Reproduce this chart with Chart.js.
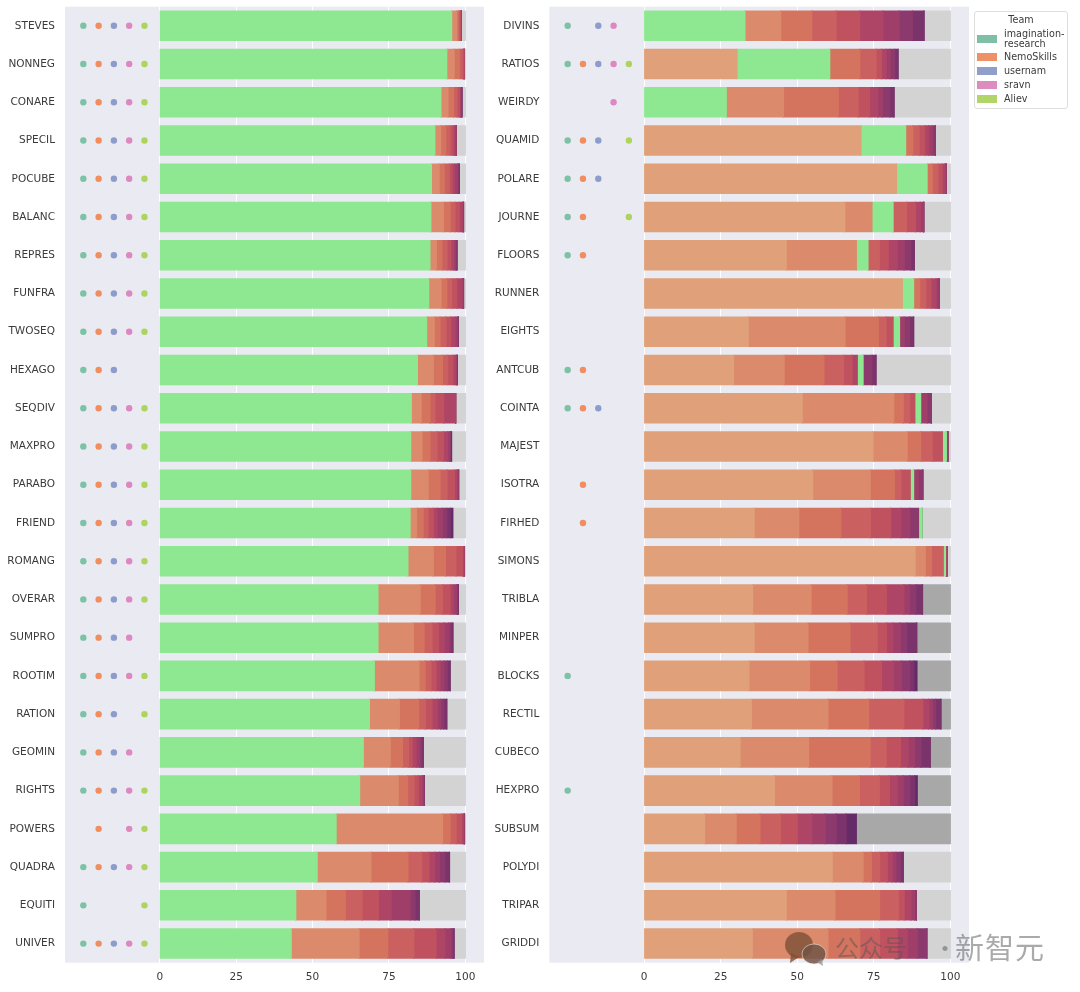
<!DOCTYPE html>
<html>
<head>
<meta charset="utf-8">
<title>Problem difficulty by team</title>
<script src="https://cdn.jsdelivr.net/npm/chart.js@4"></script>
<style>
  html, body { margin: 0; padding: 0; background: #fff; }
  body { position: relative; width: 1080px; height: 992px; overflow: hidden; font-family: "DejaVu Sans", sans-serif; }
  canvas { position: absolute; top: 0; filter: blur(0.35px); }
  #chartLeft { left: 0; }
  #chartRight { left: 490px; }
  #legend { position: absolute; left: 974px; top: 11px; width: 92px; height: 96px; border: 1px solid #dedede; border-radius: 3px; background: #fff; font-size: 9.6px; color: #3a3a3a; }
  #legend .title { position: absolute; top: 1px; left: 0; width: 100%; text-align: center; line-height: 13px; }
  #legend .row { position: absolute; left: 2px; display: flex; align-items: center; line-height: 10px; }
  #legend .sw { width: 20px; height: 8px; margin-right: 7px; flex: none; }
  #mark { position: absolute; left: 785px; top: 926px; width: 270px; height: 44px; color: rgba(85,85,85,.5); font-family: "Noto Sans CJK SC", sans-serif; font-size: 24px; pointer-events: none; }
  #mark span { position: absolute; top: 3px; white-space: nowrap; }
</style>
</head>
<body>
<canvas id="chartLeft" width="490" height="992"></canvas>
<canvas id="chartRight" width="490" height="992"></canvas>

<div id="legend"><div class="title">Team</div></div>

<div id="mark">
  <svg width="46" height="44" style="position:absolute;left:0;top:0">
    <ellipse cx="14" cy="19" rx="14" ry="13" fill="rgba(125,80,55,.8)"/>
    <path d="M6 27 L5 37 L14 31 Z" fill="rgba(125,80,55,.8)"/>
    <ellipse cx="29" cy="28" rx="12" ry="10" fill="rgba(115,85,70,.85)" stroke="rgba(235,225,220,.6)" stroke-width="1"/>
    <path d="M32 36 L38 40 L37 33 Z" fill="rgba(150,150,150,.8)"/>
  </svg>
  <span style="left:50px">公众号</span>
  <span style="left:148px">·</span>
  <span style="left:170px;font-size:29px;top:-1px;letter-spacing:1px">新智元</span>
</div>

<script>
// panel categories, top to bottom
const leftLabels = ["STEVES","NONNEG","CONARE","SPECIL","POCUBE","BALANC","REPRES","FUNFRA","TWOSEQ","HEXAGO","SEQDIV","MAXPRO","PARABO","FRIEND","ROMANG","OVERAR","SUMPRO","ROOTIM","RATION","GEOMIN","RIGHTS","POWERS","QUADRA","EQUITI","UNIVER"];
const rightLabels = ["DIVINS","RATIOS","WEIRDY","QUAMID","POLARE","JOURNE","FLOORS","RUNNER","EIGHTS","ANTCUB","COINTA","MAJEST","ISOTRA","FIRHED","SIMONS","TRIBLA","MINPER","BLOCKS","RECTIL","CUBECO","HEXPRO","SUBSUM","POLYDI","TRIPAR","GRIDDI"];

// share of each ranked answer per problem (rank 0 first)
const leftShares = [
  [95.5,1.6,.5,.4,.3,.2,.2],
  [93.9,2.4,1.7,.9,.6,.1],
  [92,2.3,1.8,1.1,.8,.3,.2,.2,.2],
  [90,1.9,1.7,1.4,.9,.6,.5],
  [88.9,2.5,1.7,1.6,.9,.9,.9,.3,.3],
  [88.7,4.1,2.2,1.6,1.4,1,.2,.1,.1],
  [88.4,2.1,1.8,1.7,1.2,.9,.6,.3,.2,.1],
  [88,4,1.9,1.6,1.7,1.7,.3,.1,.1],
  [87.3,2.5,1.9,1.9,1.6,1.4,.8,.2,.1],
  [84.3,5.2,3,1.7,1.7,.8,.4,.2,.1],
  [82.3,3.2,2.9,1.7,2.8,3.9],
  [82.1,3.7,2.6,2.3,2.1,1.3,.7,.3,.2,.2],
  [82.1,5.7,3.9,2.3,2.4,.8,.4,.1,.1],
  [81.9,2.1,2.2,1.6,1.7,1.2,1.8,1.4,1.2,.8],
  [81.2,8.3,4,3.4,2.2,.4,.1],
  [71.4,13.8,4.9,2.4,2.5,1,1,.4,.3],
  [71.4,11.6,3.5,2.6,2.1,1.8,1.5,.7,.7],
  [70.2,14.6,2,1.9,1.7,1.3,1.3,1.1,.9],
  [68.6,9.8,6.3,2.2,2.2,1.7,1.1,1,1],
  [66.6,8.8,4,2,1.2,1.3,1.1,.7,.5],
  [65.4,12.6,3.1,2.1,1.4,1.1,.5,.3,.1],
  [57.7,34.8,2.5,2,1.7,.7,.2,.1],
  [51.5,17.6,12.1,4.5,2.4,1.8,1.6,1.8,1.5],
  [44.5,9.9,6.3,5.5,5.4,4.1,6.2,1.6,1.4],
  [43,22.2,9.4,8.5,7.3,2.9,1.9,.6,.5]
];
const rightShares = [
  [32.9,11.7,10.1,8,7.7,7.6,5.3,4.3,3.8],
  [30.3,30.3,9.8,5.3,1.8,1.5,1.3,1.5,1.1],
  [26.8,18.7,17.9,6.5,3.7,2.7,1.5,2.4,1.4],
  [70.8,14.6,2.3,2.1,1.8,1.3,1.2,1],
  [82.4,10,1.7,1.8,1.4,.9,.4],
  [65.5,8.9,6.9,4.4,2.9,1.6,1.1],
  [46.4,22.9,3.8,3.7,2.9,3,2.2,2.2,1.1],
  [84.3,3.7,2,2,1.7,1.6,.7,.3],
  [34,31.6,10.9,2.5,2.3,2.1,1.5,1.8,1.3],
  [29.2,16.5,13,6.4,2.8,1.7,1.9,2.9,1.3],
  [51.6,29.9,3.1,2.1,1.7,1.9,2.1,1.4],
  [74.7,11.2,4.4,3.8,3.3,1.3,.5],
  [55,18.8,7.9,2.1,3.1,1.1,1.5,1.5],
  [35.9,14.6,13.7,9.7,6.6,3.3,2.9,2.9,1.2],
  [88.5,3.3,2,3.9,.7,.5],
  [35.4,19.1,11.8,6.3,6.5,5.7,1.9,2,2.2],
  [35.9,17.6,13.7,8.9,3,2.1,2.4,2.2,3.2],
  [34.2,19.8,9,8.8,5.7,3.9,2.6,2.7,1.4,1],
  [35,25,13.3,11.5,6.2,1.9,1.2,1.1,1.7],
  [31.3,22.4,20.1,5.2,4.7,2.5,2.1,2.1,3],
  [42.5,18.8,9,6.5,3.3,2.5,2,2.1,1.6,.9],
  [19.7,10.3,7.8,6.7,5.5,4.7,4.4,3.6,3.3,3.3],
  [61.4,10.1,2.7,2.7,2.5,1.6,1.2,1.5,.9],
  [46.4,15.9,14.6,6.1,1.9,2.2,1.2,.6],
  [35.3,24.7,10.4,6.5,5.8,3.2,3.3,3.1]
];

// which rank is the green one in each row
const leftHighlight = [0,0,0,0,0,0,0,0,0,0,0,0,0,0,0,0,0,0,0,0,0,0,0,0,0];
const rightHighlight = [0,1,0,1,1,2,2,1,5,6,5,5,5,8,4,-1,-1,-1,-1,-1,-1,-1,-1,-1,-1];

// rows whose remainder is the darker grey
const darkRemainderRows = ["TRIBLA","MINPER","BLOCKS","RECTIL","CUBECO","HEXPRO","SUBSUM"];

// which teams solved what, one flag per team
const teams = ["imagination-research","NemoSkills","usernam","sravn","Aliev"];
const teamSlots = [-25,-20,-15,-10,-5];
const leftMembers = ["11111","11111","11111","11111","11111","11111","11111","11111","11111","11100","11111","11111","11111","11111","11111","11111","11110","11111","11101","11110","11111","01011","11111","10001","11111"];
const rightMembers = ["10110","11111","00010","11101","11100","11001","11000","00000","00000","11000","11100","00000","01000","01000","00000","00000","00000","10000","00000","00000","10000","00000","00000","00000","00000"];

const xTicks = [0,25,50,75,100];

const rankColors = ["#dfa07a","#db8b6c","#d4745f","#cb6060","#c05260","#ae4566","#9f3f69","#8c3a6d","#7b336b","#652b68"];
const green = "#8de891";
const greyLight = "#d3d3d3";
const greyDark = "#a8a8a8";
const dotColors = ["#7cc2a4","#f08e60","#8d9ccb","#dd88c0","#aed45f"];
const swatchColors = ["#7fbfa6","#ef9167","#8f9fc9","#dd8cc0","#b1d568"];
const RANKS = 10;

const panelBg = {
  id: "panelBg",
  beforeDraw(chart) {
    const a = chart.chartArea;
    chart.ctx.save();
    chart.ctx.fillStyle = "#eaeaf2";
    chart.ctx.fillRect(a.left, a.top, a.right - a.left, a.bottom - a.top);
    chart.ctx.restore();
  }
};

function buildPanel(id, labels, shares, highlight, members, yWidth, padRight) {
  const datasets = [];
  // thin segments let the panel show through at fractional pixels, so overlap them a bit
  const barStyle = { barPercentage: 0.768, categoryPercentage: 1, borderWidth: 0, inflateAmount: 0.6 };

  for (let r = 0; r < RANKS; r++) {
    datasets.push({
      label: "rank " + r,
      data: shares.map(row => row[r] || 0),
      backgroundColor: labels.map((_, i) => highlight[i] === r ? green : rankColors[r]),
      ...barStyle
    });
  }

  // whatever is left up to 100
  datasets.push({
    label: "rest",
    data: shares.map(row => +(100 - row.reduce((a, b) => a + b, 0)).toFixed(1)),
    backgroundColor: labels.map(l => darkRemainderRows.includes(l) ? greyDark : greyLight),
    ...barStyle
  });

  teams.forEach((team, t) => {
    const pts = [];
    labels.forEach((l, i) => {
      if (members[i][t] === "1") pts.push({ x: teamSlots[t], y: l });
    });
    datasets.push({
      type: "scatter",
      indexAxis: "x", // otherwise the dots get stacked with each other
      label: team,
      data: pts,
      backgroundColor: dotColors[t],
      pointRadius: 3.2,
      pointBorderWidth: 0,
      order: -1
    });
  });

  return new Chart(document.getElementById(id), {
    type: "bar",
    data: { labels, datasets },
    plugins: [panelBg],
    options: {
      indexAxis: "y",
      responsive: false,
      animation: false,
      layout: { padding: { top: 6.7, right: padRight, bottom: 0, left: 0 } },
      plugins: { legend: { display: false }, tooltip: { enabled: false } },
      scales: {
        x: {
          type: "linear",
          stacked: true,
          min: -31,
          max: 106.1,
          afterBuildTicks: s => { s.ticks = xTicks.map(v => ({ value: v })); },
          afterFit: s => { s.height = 29.3; },
          grid: { color: "#ffffff", lineWidth: 1, drawTicks: false },
          border: { display: false },
          ticks: { color: "#3a3a3a", font: { family: "DejaVu Sans", size: 10.5 }, padding: 8, maxRotation: 0, autoSkip: false }
        },
        y: {
          type: "category",
          stacked: true,
          offset: true,
          afterFit: s => { s.width = yWidth; s.paddingTop = 0; s.paddingBottom = 0; },
          grid: { display: false, drawTicks: false },
          border: { display: false },
          ticks: { color: "#3a3a3a", font: { family: "DejaVu Sans", size: 10.5 }, padding: 10, autoSkip: false }
        }
      }
    }
  });
}

buildPanel("chartLeft", leftLabels, leftShares, leftHighlight, leftMembers, 65, 6);
buildPanel("chartRight", rightLabels, rightShares, rightHighlight, rightMembers, 59.3, 11);

// legend box, the two-line name needs wrapping so it stays html
const legendEl = document.getElementById("legend");
const legendTops = [17, 40, 54, 68, 82];
teams.forEach((team, t) => {
  const row = document.createElement("div");
  row.className = "row";
  row.style.top = legendTops[t] + "px";
  const name = team === "imagination-research" ? "imagination-<br>research" : team;
  row.innerHTML = `<span class="sw" style="background:${swatchColors[t]}"></span><span>${name}</span>`;
  legendEl.appendChild(row);
});
</script>
</body>
</html>
